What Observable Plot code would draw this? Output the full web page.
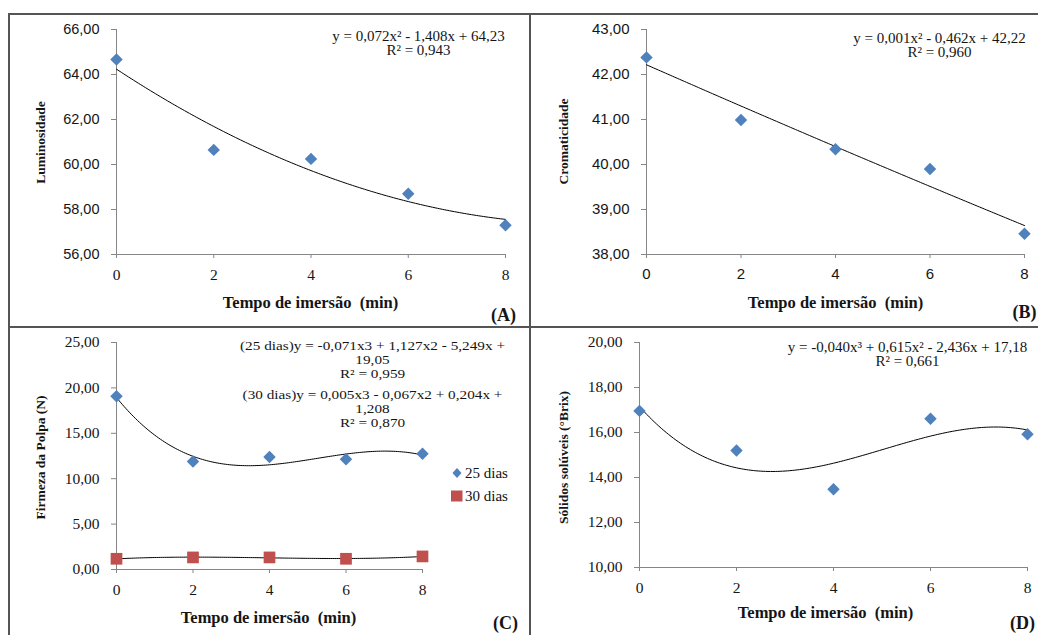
<!DOCTYPE html>
<html>
<head>
<meta charset="utf-8">
<script src="https://cdn.jsdelivr.net/npm/d3@7"></script>
<script src="https://cdn.jsdelivr.net/npm/@observablehq/plot@0.6"></script>
<style>
  html, body { margin: 0; padding: 0; background: #fff; }
  #root { position: relative; width: 1038px; height: 635px; overflow: hidden; background: #fff; }
  .pnl { position: absolute; }
  .bd { position: absolute; background: #555; }
  .leg { position: absolute; font-family: "Liberation Serif", serif; font-size: 15px; color: #111; display: flex; align-items: center; white-space: nowrap; }
</style>
</head>
<body>
<div id="root"></div>
<script>
// ---------------- data ----------------
const tempo = [0, 2, 4, 6, 8];
const tempoTicks = [0, 2, 4, 6, 8];

const luminosidade = [64.67, 60.65, 60.25, 58.70, 57.30];
const luminTicks = [56, 58, 60, 62, 64, 66];
const luminEq = ["y = 0,072x² - 1,408x + 64,23", "R² = 0,943"];

const cromaticidade = [42.38, 40.99, 40.34, 39.90, 38.46];
const cromaTicks = [38, 39, 40, 41, 42, 43];
const cromaEq = ["y = 0,001x² - 0,462x + 42,22", "R² = 0,960"];

const firmeza25 = [19.08, 11.90, 12.38, 12.15, 12.75];
const firmeza30 = [1.18, 1.33, 1.33, 1.18, 1.44];
const firmezaTicks = [0, 5, 10, 15, 20, 25];
const firmeza25Eq = ["(25 dias)y = -0,071x3 + 1,127x2 - 5,249x +", "19,05", "R² = 0,959"];
const firmeza30Eq = ["(30 dias)y = 0,005x3 - 0,067x2 + 0,204x +", "1,208", "R² = 0,870"];
const seriesNames = ["25 dias", "30 dias"];

const solidos = [16.96, 15.20, 13.48, 16.61, 15.92];
const solidosTicks = [10, 12, 14, 16, 18, 20];
const solidosEq = ["y = -0,040x³ + 0,615x² - 2,436x + 17,18", "R² = 0,661"];

const xTitle = "Tempo de imersão  (min)";

// ---------------- helpers ----------------
const BLUE = "#4F81BD", RED = "#C0504D", AX = "#868686", TXT = "#151515";
const SERIF = "'Liberation Serif', 'Times New Roman', serif";
const SANS = "'Liberation Sans', Arial, sans-serif";
const fmt = d => d.toFixed(2).replace(".", ",");

function polyfit(xs, ys, deg) {
  const n = deg + 1;
  const A = Array.from({length: n}, () => new Array(n + 1).fill(0));
  for (let r = 0; r < n; r++) {
    for (let c = 0; c < n; c++) A[r][c] = d3.sum(xs, x => Math.pow(x, r + c));
    A[r][n] = d3.sum(xs, (x, i) => Math.pow(x, r) * ys[i]);
  }
  for (let i = 0; i < n; i++) {
    let p = i;
    for (let k = i + 1; k < n; k++) if (Math.abs(A[k][i]) > Math.abs(A[p][i])) p = k;
    [A[i], A[p]] = [A[p], A[i]];
    for (let k = i + 1; k < n; k++) {
      const f = A[k][i] / A[i][i];
      for (let j = i; j <= n; j++) A[k][j] -= f * A[i][j];
    }
  }
  const c = new Array(n).fill(0);
  for (let i = n - 1; i >= 0; i--) {
    let s = A[i][n];
    for (let j = i + 1; j < n; j++) s -= A[i][j] * c[j];
    c[i] = s / A[i][i];
  }
  return c;
}
function fitCurve(xs, ys, deg) {
  const c = polyfit(xs, ys, deg);
  return d3.range(0, 8.0001, 0.05).map(x => ({x, y: c.reduce((s, a, i) => s + a * Math.pow(x, i), 0)}));
}
const rows = ys => tempo.map((x, i) => ({x, y: ys[i]}));

// text placed in page coordinates relative to the panel's frame origin
function note(str, px, py, frame, o = {}) {
  const fs = o.fontSize || 15;
  return Plot.text([str], {
    text: d => d, frameAnchor: "top-left",
    dx: px - frame.fx, dy: py - frame.fy,
    fontFamily: o.fontFamily || SERIF, fontSize: fs,
    fontWeight: o.fontWeight || "normal", rotate: o.rotate || 0,
    lineHeight: o.lineGap ? o.lineGap / fs : 1,
    textAnchor: o.textAnchor || "middle", lineAnchor: "middle", fill: TXT
  });
}

function panel(cfg) {
  const {left, top, width, height, ml, mr, mt, mb, ydom, yticks, yFont, yFontSize, xFont, xFontSize, marks} = cfg;
  const frame = {fx: left + ml, fy: top + mt};
  const chart = Plot.plot({
    width, height, marginLeft: ml, marginRight: mr, marginTop: mt, marginBottom: mb,
    x: {domain: [0, 8], ticks: tempoTicks},
    y: {domain: ydom, ticks: yticks},
    style: {background: "transparent", color: TXT, overflow: "visible", fontFamily: yFont},
    marks: [
      Plot.axisY({ticks: yticks, tickFormat: fmt, tickSize: 5, tickPadding: 12, stroke: AX, label: null,
                  fontFamily: yFont, fontSize: yFontSize}),
      Plot.axisX({ticks: tempoTicks, tickFormat: d => String(d), tickSize: 4, tickPadding: 10, stroke: AX, label: null,
                  fontFamily: xFont, fontSize: xFontSize}),
      Plot.ruleX([0], {stroke: AX}),
      Plot.ruleY([ydom[0]], {stroke: AX}),
      ...marks(frame)
    ]
  });
  // make sure the tick labels get their own typefaces
  const sel = d3.select(chart);
  sel.selectAll('g[aria-label="y-axis tick label"], g[aria-label="y-axis tick label"] text')
     .attr("font-family", yFont).attr("font-size", yFontSize);
  sel.selectAll('g[aria-label="x-axis tick label"], g[aria-label="x-axis tick label"] text')
     .attr("font-family", xFont).attr("font-size", xFontSize);
  // the equation block of panel C is set in a horizontally widened face, as in the original
  sel.selectAll("text").filter(function () { return this.textContent.includes("dias)y"); })
     .each(function () {
       const t = this.getAttribute("transform") || "";
       this.setAttribute("transform", t + " scale(1.24,1)");
     });
  chart.classList.add("pnl");
  chart.style.left = left + "px";
  chart.style.top = top + "px";
  return chart;
}

const root = document.getElementById("root");
const TITLE = {fontWeight: "bold", fontSize: 16.5};
const YT = {fontWeight: "bold", fontSize: 13.5, rotate: -90};
const LETTER = {fontWeight: "bold", fontSize: 18};

// ---------------- Panel A ----------------
root.appendChild(panel({
  left: 9, top: 14, width: 521, height: 313, ml: 107, mr: 25, mt: 15, mb: 73,
  ydom: [56, 66], yticks: luminTicks, yFont: SANS, yFontSize: 14.5, xFont: SERIF, xFontSize: 15.5,
  marks: f => [
    Plot.line(fitCurve(tempo, luminosidade, 2), {x: "x", y: "y", stroke: "#000", strokeWidth: 1}),
    Plot.dot(rows(luminosidade), {x: "x", y: "y", symbol: "diamond2", r: 5.6, fill: BLUE}),
    note(luminEq.join("\n"), 418, 43, f, {lineGap: 14}),
    note(xTitle, 310, 302, f, TITLE),
    note("Luminosidade", 40, 142, f, YT),
    note("(A)", 503, 315, f, LETTER)
  ]
}));

// ---------------- Panel B ----------------
root.appendChild(panel({
  left: 531, top: 14, width: 507, height: 313, ml: 115, mr: 14, mt: 15, mb: 73,
  ydom: [38, 43], yticks: cromaTicks, yFont: SANS, yFontSize: 15, xFont: SANS, xFontSize: 15,
  marks: f => [
    Plot.line(fitCurve(tempo, cromaticidade, 2), {x: "x", y: "y", stroke: "#000", strokeWidth: 1}),
    Plot.dot(rows(cromaticidade), {x: "x", y: "y", symbol: "diamond2", r: 5.6, fill: BLUE}),
    note(cromaEq.join("\n"), 939, 45, f, {lineGap: 14}),
    note(xTitle, 835, 302, f, TITLE),
    note("Cromaticidade", 563, 141, f, YT),
    note("(B)", 1024, 312, f, LETTER)
  ]
}));

// ---------------- Panel C ----------------
root.appendChild(panel({
  left: 9, top: 328, width: 521, height: 307, ml: 107, mr: 108, mt: 14, mb: 66,
  ydom: [0, 25], yticks: firmezaTicks, yFont: SERIF, yFontSize: 15.5, xFont: SERIF, xFontSize: 15.5,
  marks: f => [
    Plot.line(fitCurve(tempo, firmeza25, 3), {x: "x", y: "y", stroke: "#000", strokeWidth: 1}),
    Plot.line(fitCurve(tempo, firmeza30, 3), {x: "x", y: "y", stroke: "#000", strokeWidth: 1}),
    Plot.dot(rows(firmeza25), {x: "x", y: "y", symbol: "diamond2", r: 5.6, fill: BLUE}),
    Plot.dot(rows(firmeza30), {x: "x", y: "y", symbol: "square", r: 6.6, fill: RED}),
    note(firmeza25Eq.join("\n"), 372, 359, f, {fontSize: 12.3, lineGap: 14}),
    note(firmeza30Eq.join("\n"), 372, 408, f, {fontSize: 12.3, lineGap: 14}),
    note(xTitle, 268, 617, f, TITLE),
    note("Firmeza da Polpa (N)", 40, 457, f, YT),
    note("(C)", 505, 623, f, LETTER)
  ]
}));

// ---------------- Panel D ----------------
root.appendChild(panel({
  left: 531, top: 328, width: 507, height: 307, ml: 108, mr: 11, mt: 14, mb: 68,
  ydom: [10, 20], yticks: solidosTicks, yFont: SERIF, yFontSize: 15.5, xFont: SERIF, xFontSize: 15.5,
  marks: f => [
    Plot.line(fitCurve(tempo, solidos, 3), {x: "x", y: "y", stroke: "#000", strokeWidth: 1}),
    Plot.dot(rows(solidos), {x: "x", y: "y", symbol: "diamond2", r: 5.6, fill: BLUE}),
    note(solidosEq.join("\n"), 907, 354, f, {lineGap: 14}),
    note(xTitle, 825, 612, f, TITLE),
    note("Sólidos solúveis (°Brix)", 563, 457, f, YT),
    note("(D)", 1022, 623, f, LETTER)
  ]
}));

// ---------------- Legend (panel C) ----------------
function legendItem(name, color, shape, top) {
  const div = document.createElement("div");
  div.className = "leg";
  div.style.left = "450px";
  div.style.top = (top - 10) + "px";
  const mk = shape === "diamond"
    ? `<svg width="14" height="20"><path d="M7,5 L11.5,10 L7,15 L2.5,10 Z" fill="${color}"/></svg>`
    : `<svg width="14" height="20"><rect x="1" y="4.5" width="11.5" height="11" fill="${color}"/></svg>`;
  div.innerHTML = mk + `<span style="margin-left:1px">${name}</span>`;
  root.appendChild(div);
}
legendItem(seriesNames[0], BLUE, "diamond", 473);
legendItem(seriesNames[1], RED, "square", 496);

// ---------------- Panel borders ----------------
function border(x, y, w, h) {
  const d = document.createElement("div");
  d.className = "bd";
  Object.assign(d.style, {left: x + "px", top: y + "px", width: w + "px", height: h + "px"});
  root.appendChild(d);
}
border(9, 13, 1029, 2);
border(8, 13, 2, 622);
border(529, 13, 2, 622);
border(8, 326, 1030, 2);
</script>
</body>
</html>
